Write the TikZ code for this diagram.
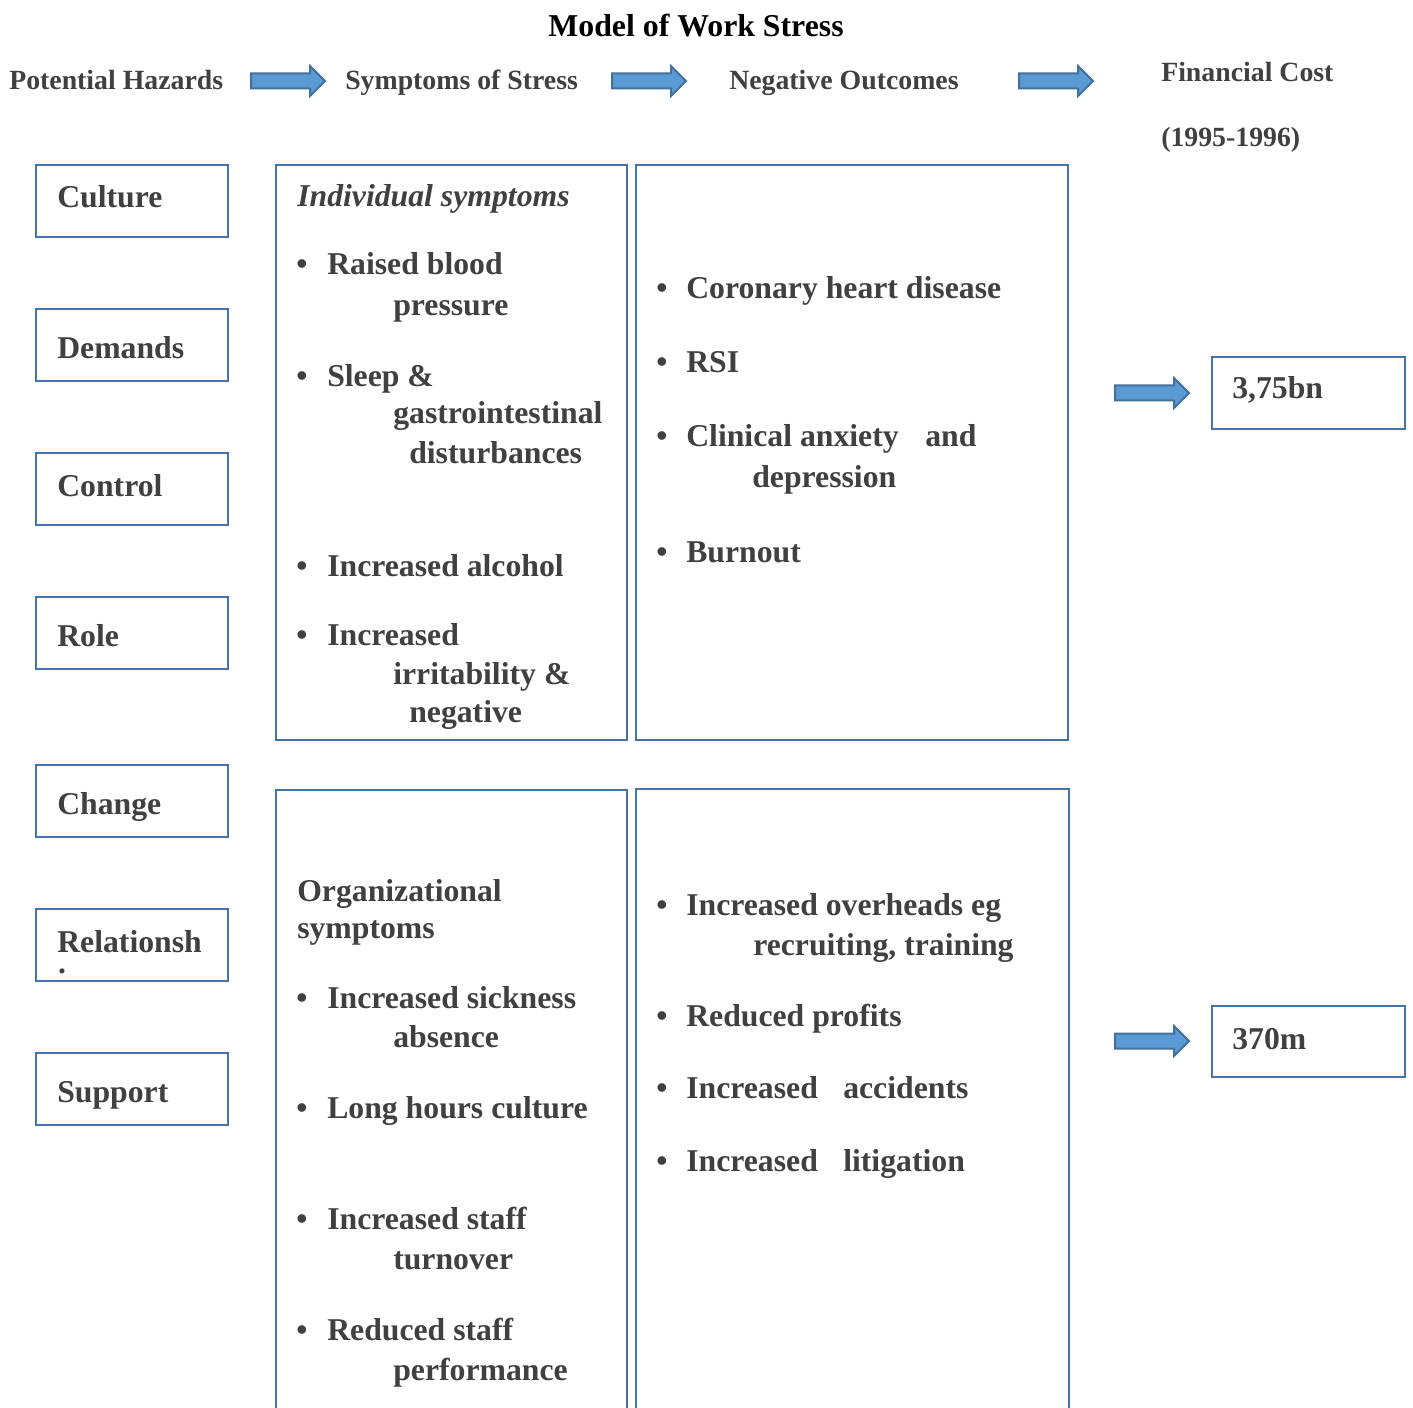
\documentclass[tikz,border=0pt]{standalone}
\usepackage{fontspec}
\setmainfont{Liberation Serif}
\definecolor{txtgray}{HTML}{404040}
\definecolor{boxblue}{HTML}{4673A5}
\definecolor{arrowfill}{HTML}{5B9BD5}
\definecolor{arrowedge}{HTML}{41719C}
\tikzset{
  body/.style={font=\fontsize{23.8}{28}\selectfont\bfseries, text=txtgray, inner sep=0pt, anchor=base west, yshift=-1.5pt},
  bodyit/.style={body, font=\fontsize{23.8}{28}\selectfont\bfseries\itshape},
  bul/.style={font=\fontsize{23.8}{28}\selectfont\bfseries, text=txtgray, inner sep=0pt, anchor=base, yshift=-1.5pt},
  head/.style={font=\fontsize{20.85}{25}\selectfont\bfseries, text=txtgray, inner sep=0pt, anchor=base west, yshift=-1.5pt},
  ttl/.style={font=\fontsize{23.85}{28}\selectfont\bfseries, text=black, inner sep=0pt, anchor=base, yshift=-1.5pt},
  frame/.style={draw=boxblue, line width=1.9pt},
  blockarrow/.style={fill=arrowfill, draw=arrowedge, line width=1.5pt, line join=miter},
}
% block arrow: left end x, vertical centre y (pixel units)
\newcommand\blockarrowat[2]{%
  \draw[blockarrow] (#1,#2-7.5) -- ++(59,0) -- ++(0,-7.5) -- ++(15,15)
    -- ++(-15,15) -- ++(0,-7.5) -- ++(-59,0) -- cycle;}
\begin{document}
\begin{tikzpicture}[x=0.75pt, y=-0.75pt]
\useasboundingbox (0,0) rectangle (1413,1408);

% title and column headings
\node[ttl] (title) at (696,35) {Model of Work Stress};
\node[head] (hHaz) at (9,88) {Potential Hazards};
\node[head] (hSym) at (345,88) {Symptoms of Stress};
\node[head] (hOut) at (729,88) {Negative Outcomes};
\node[head] (hCost) at (1161,80) {Financial Cost};
\node[head] (hYear) at (1161,145) {(1995-1996)};

\blockarrowat{251}{81}
\blockarrowat{612}{81}
\blockarrowat{1019}{81}

% hazards
\draw[frame] (36,165) rectangle (228,237);
\node[body] (hz1) at (57,206) {Culture};
\draw[frame] (36,309) rectangle (228,381);
\node[body] (hz2) at (57,357) {Demands};
\draw[frame] (36,453) rectangle (228,525);
\node[body] (hz3) at (57,494) {Control};
\draw[frame] (36,597) rectangle (228,669);
\node[body] (hz4) at (57,644) {Role};
\draw[frame] (36,765) rectangle (228,837);
\node[body] (hz5) at (57,812) {Change};
\draw[frame] (36,909) rectangle (228,981);
\node[body] (hz6) at (57,950) {Relationsh};
\node[bul] (hz6b) at (62,971) {.};
\draw[frame] (36,1053) rectangle (228,1125);
\node[body] (hz7) at (57,1100) {Support};

% individual symptoms
\draw[frame] (276,165) rectangle (627,740);
\node[bodyit] (indHead) at (297,205) {Individual symptoms};
\node[bul] (ib1) at (302,273) {•};
\node[body] (is1a) at (327,273) {Raised blood};
\node[body] (is1b) at (393,314) {pressure};
\node[bul] (ib2) at (302,385) {•};
\node[body] (is2a) at (327,385) {Sleep \&};
\node[body] (is2b) at (393,422) {gastrointestinal};
\node[body] (is2c) at (409,462) {disturbances};
\node[bul] (ib3) at (302,574) {•};
\node[body] (is3a) at (327,574) {Increased alcohol};
\node[bul] (ib4) at (302,643) {•};
\node[body] (is4a) at (327,643) {Increased};
\node[body] (is4b) at (393,682) {irritability \&};
\node[body] (is4c) at (409,720) {negative};

% individual outcomes
\draw[frame] (636,165) rectangle (1068,740);
\node[bul] (ob1) at (662,297) {•};
\node[body] (io1) at (686,297) {Coronary heart disease};
\node[bul] (ob2) at (662,371) {•};
\node[body] (io2) at (686,371) {RSI};
\node[bul] (ob3) at (662,445) {•};
\node[body] (io3a) at (686,445) {Clinical anxiety};
\node[body] (io3b) at (925,445) {and};
\node[body] (io3c) at (752,486) {depression};
\node[bul] (ob4) at (662,560) {•};
\node[body] (io4) at (686,560) {Burnout};

% organizational symptoms (boxes run past the lower edge)
\draw[frame] (276,1420) -- (276,790) -- (627,790) -- (627,1420);
\node[body] (orgHead) at (297,899) {Organizational};
\node[body] (orgHead2) at (297,936) {symptoms};
\node[bul] (sb1) at (302,1006) {•};
\node[body] (os1a) at (327,1006) {Increased sickness};
\node[body] (os1b) at (393,1045) {absence};
\node[bul] (sb2) at (302,1116) {•};
\node[body] (os2) at (327,1116) {Long hours culture};
\node[bul] (sb3) at (302,1227) {•};
\node[body] (os3a) at (327,1227) {Increased staff};
\node[body] (os3b) at (393,1267) {turnover};
\node[bul] (sb4) at (302,1338) {•};
\node[body] (os4a) at (327,1338) {Reduced staff};
\node[body] (os4b) at (393,1378) {performance};

% organizational outcomes
\draw[frame] (636,1420) -- (636,789) -- (1069,789) -- (1069,1420);
\node[bul] (pb1) at (662,913) {•};
\node[body] (oo1a) at (686,913) {Increased overheads eg};
\node[body] (oo1b) at (753,953) {recruiting, training};
\node[bul] (pb2) at (662,1024) {•};
\node[body] (oo2) at (686,1024) {Reduced profits};
\node[bul] (pb3) at (662,1096) {•};
\node[body] (oo3a) at (686,1096) {Increased};
\node[body] (oo3b) at (843,1096) {accidents};
\node[bul] (pb4) at (662,1169) {•};
\node[body] (oo4a) at (686,1169) {Increased};
\node[body] (oo4b) at (843,1169) {litigation};

% costs
\blockarrowat{1115}{393}
\draw[frame] (1212,357) rectangle (1405,429);
\node[body] (cost1) at (1232,397) {3,75bn};
\blockarrowat{1115}{1041}
\draw[frame] (1212,1006) rectangle (1405,1077);
\node[body] (cost2) at (1232,1047) {370m};
\end{tikzpicture}
\end{document}
